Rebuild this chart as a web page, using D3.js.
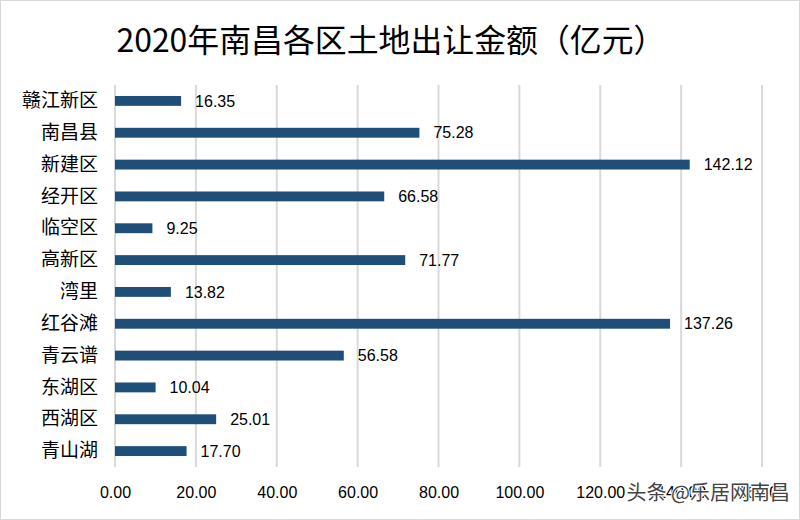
<!DOCTYPE html>
<html><head><meta charset="utf-8">
<script src="https://cdn.jsdelivr.net/npm/d3@7"></script>
<style>body{margin:0;background:#fff;} svg{display:block;}</style>
</head><body>
<svg id="c" width="800" height="520"></svg>
<script>
const title = "2020年南昌各区土地出让金额（亿元）";
const categories = ["赣江新区","南昌县","新建区","经开区","临空区","高新区","湾里","红谷滩","青云谱","东湖区","西湖区","青山湖"];
const values = [16.35,75.28,142.12,66.58,9.25,71.77,13.82,137.26,56.58,10.04,25.01,17.70];
const xTicks = [0,20,40,60,80,100,120,140,160];
const watermark = "头条 @乐居网南昌";

const svg = d3.select("#c");
svg.append("rect").attr("x",0.5).attr("y",0.5).attr("width",799).attr("height",519)
  .attr("fill","#fff").attr("stroke","#d9d9d9");

const x = d3.scaleLinear().domain([0,160]).range([115,762]);
const y = d3.scaleBand().domain(categories).range([85,467]).paddingInner(0.69).paddingOuter(0.345);

svg.append("text").attr("x",391).attr("y",52).attr("text-anchor","middle")
  .attr("font-family","'Noto Sans CJK SC'").attr("font-size",32).attr("fill","#000")
  .attr("textLength",549).attr("lengthAdjust","spacingAndGlyphs").text(title);

// gridlines
svg.append("g").selectAll("line").data(xTicks).join("line")
  .attr("x1",d=>x(d)).attr("x2",d=>x(d)).attr("y1",85).attr("y2",467)
  .attr("stroke","#d9d9d9").attr("stroke-width",2);

// x axis labels
const ax = svg.append("g").attr("transform","translate(0,492)")
  .call(d3.axisBottom(x).tickValues(xTicks).tickSize(0).tickPadding(0).tickFormat(d3.format(".2f")));
ax.select(".domain").remove();
ax.selectAll("text").attr("font-family","'Liberation Sans', Arial").attr("font-size",16).attr("fill","#000").attr("dy","0.35em").attr("y",0);

// bars
svg.append("g").selectAll("rect").data(categories).join("rect")
  .attr("x",x(0)).attr("y",d=>y(d)).attr("height",y.bandwidth())
  .attr("width",(d,i)=>x(values[i])-x(0)).attr("fill","#1f4e79");

// value labels
svg.append("g").selectAll("text").data(categories).join("text")
  .attr("x",(d,i)=>x(values[i])+14).attr("y",d=>y(d)+y.bandwidth()/2).attr("dy","0.35em")
  .attr("font-family","'Liberation Sans', Arial").attr("font-size",16).attr("fill","#000")
  .text((d,i)=>values[i].toFixed(2));

// category labels
const ay = svg.append("g").attr("transform","translate(98,0)")
  .call(d3.axisLeft(y).tickSize(0).tickPadding(0));
ay.select(".domain").remove();
ay.selectAll("text").attr("font-family","'Noto Sans CJK SC'").attr("font-size",19).attr("fill","#000");

// watermark text
svg.append("text").attr("x",790).attr("y",500).attr("text-anchor","end")
  .attr("font-family","'Noto Sans CJK SC'").attr("font-size",20).attr("fill","#444")
  .attr("stroke","#fff").attr("stroke-width",2).attr("paint-order","stroke").text(watermark);
</script>
</body></html>
